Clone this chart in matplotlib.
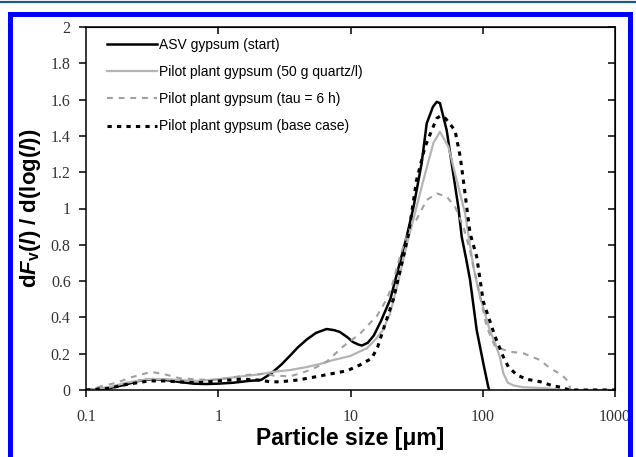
import matplotlib
matplotlib.use("Agg")
import matplotlib.pyplot as plt
from matplotlib.patches import Rectangle
from matplotlib.lines import Line2D

plt.rcParams["mathtext.fontset"] = "custom"
plt.rcParams["mathtext.rm"] = "Liberation Sans:bold"
plt.rcParams["mathtext.it"] = "Liberation Sans:italic:bold"
plt.rcParams["mathtext.bf"] = "Liberation Sans:bold"

# ASV gypsum (start)
asv_x = [0.1, 0.15, 0.2, 0.25, 0.32, 0.4, 0.5, 0.65, 0.8, 1.0, 1.3, 1.7, 2.1, 2.5,
         3.0, 3.5, 4.0, 4.7, 5.5, 6.6, 7.5, 8.3, 9.5, 10.4, 11.5, 12.2, 13.5, 15,
         17, 20, 23, 26.6, 30, 34.5, 37.7, 42, 44.9, 47.5, 53.4, 58.2, 65.3, 69.3,
         75, 80.2, 90, 101, 110, 112]
asv_y = [0.0, 0.01, 0.03, 0.05, 0.06, 0.055, 0.045, 0.035, 0.033, 0.035, 0.04, 0.05,
         0.055, 0.09, 0.14, 0.19, 0.235, 0.28, 0.315, 0.336, 0.33, 0.32, 0.29, 0.265,
         0.25, 0.245, 0.26, 0.3, 0.38, 0.5, 0.67, 0.845, 1.01, 1.249, 1.469, 1.56,
         1.588, 1.58, 1.43, 1.249, 1.01, 0.845, 0.72, 0.606, 0.33, 0.147, 0.018, 0.0]

# Pilot plant gypsum (50 g quartz/l)
quartz_x = [0.1, 0.15, 0.2, 0.3, 0.4, 0.5, 0.7, 1.0, 1.5, 2.0, 2.6, 3.5, 4.7, 6.0,
            7.4, 9.9, 13.3, 15.5, 17.6, 19.9, 23, 26.6, 31.6, 35.6, 42.3, 47.5, 55,
            63.5, 73.5, 84.9, 95.3, 113, 125, 135, 143, 155, 171, 202, 300, 400, 1000]
quartz_y = [0.0, 0.015, 0.04, 0.06, 0.06, 0.055, 0.05, 0.06, 0.075, 0.085, 0.1, 0.11,
            0.127, 0.145, 0.165, 0.187, 0.23, 0.28, 0.33, 0.42, 0.6, 0.8, 1.01, 1.157,
            1.36, 1.423, 1.34, 1.157, 0.973, 0.68, 0.514, 0.33, 0.25, 0.18, 0.092,
            0.04, 0.025, 0.015, 0.01, 0.0, 0.0]

# Pilot plant gypsum (tau = 6 h)
tau_x = [0.1, 0.13, 0.17, 0.22, 0.31, 0.4, 0.51, 0.7, 0.91, 1.2, 1.65, 2.3, 2.6, 3.5,
         4.5, 5.5, 6.6, 8.8, 11.8, 15.9, 18.8, 20.5, 24, 28.2, 31.6, 37.7, 44.9, 53.4,
         61.7, 71.3, 80, 87.3, 98, 107, 124, 140, 161, 203, 271, 323, 396, 444, 460]
tau_y = [0.0, 0.02, 0.04, 0.07, 0.1, 0.085, 0.065, 0.058, 0.055, 0.065, 0.083, 0.09,
         0.08, 0.075, 0.1, 0.125, 0.156, 0.24, 0.31, 0.41, 0.5, 0.57, 0.75, 0.9, 0.94,
         1.047, 1.083, 1.065, 1.01, 0.9, 0.77, 0.643, 0.478, 0.349, 0.239, 0.225,
         0.211, 0.202, 0.165, 0.12, 0.083, 0.046, 0.0]

# Pilot plant gypsum (base case)
base_x = [0.1, 0.15, 0.2, 0.3, 0.4, 0.5, 0.7, 1.0, 1.5, 2.0, 2.5, 2.9, 4.0, 5.2, 7.0,
          9.4, 11.8, 14.5, 16.1, 18.2, 21.1, 25.8, 27.5, 31.6, 36.6, 41.1, 44.9, 48,
          52.2, 61.7, 67.6, 71.3, 75.6, 80.2, 90, 101, 124, 143, 156, 181, 215, 271,
          342, 396, 450, 1000]
base_y = [0.0, 0.01, 0.03, 0.05, 0.05, 0.045, 0.04, 0.05, 0.06, 0.055, 0.045, 0.045,
          0.055, 0.07, 0.088, 0.106, 0.138, 0.175, 0.24, 0.36, 0.5, 0.77, 0.863, 1.157,
          1.34, 1.43, 1.497, 1.51, 1.497, 1.43, 1.285, 1.157, 1.01, 0.863, 0.734,
          0.487, 0.294, 0.183, 0.128, 0.083, 0.059, 0.046, 0.022, 0.015, 0.0, 0.0]

x_ticks = [0.1, 1, 10, 100, 1000]
x_labels = ["0.1", "1", "10", "100", "1000"]
y_ticks = [0, 0.2, 0.4, 0.6, 0.8, 1, 1.2, 1.4, 1.6, 1.8, 2]
y_labels = ["0", "0.2", "0.4", "0.6", "0.8", "1", "1.2", "1.4", "1.6", "1.8", "2"]

fig = plt.figure(figsize=(6.36, 4.57), dpi=100)
ax = fig.add_axes([86 / 636, 1 - 390 / 457, 529 / 636, 363 / 457])

ax.plot(asv_x, asv_y, color="black", lw=1.8, label="ASV gypsum (start)")
ax.plot(quartz_x, quartz_y, color="#b4b4b4", lw=1.6,
        label="Pilot plant gypsum (50 g quartz/l)")
ax.plot(tau_x, tau_y, color="#a0a0a0", lw=1.5, linestyle=(0, (2.8, 2.8)),
        label="Pilot plant gypsum (tau = 6 h)")
ax.plot(base_x, base_y, color="black", lw=2.2, linestyle=(0, (1.4, 1.7)),
        label="Pilot plant gypsum (base case)")

ax.set_xscale("log")
ax.set_xlim(0.1, 1000)
ax.set_ylim(0, 2)
ax.set_xticks(x_ticks)
ax.set_xticklabels(x_labels)
ax.set_yticks(y_ticks)
ax.set_yticklabels(y_labels)
ax.minorticks_off()
ax.tick_params(axis="both", direction="out", length=5, width=1.1, color="black",
               labelcolor="#333333")
ax.tick_params(axis="x", pad=9)
ax.tick_params(axis="y", pad=6)
for lab in ax.get_xticklabels() + ax.get_yticklabels():
    lab.set_fontfamily("Liberation Serif")
    lab.set_fontsize(11.5)
for sp in ax.spines.values():
    sp.set_linewidth(1.1)

top = ax.secondary_xaxis("top")
top.set_xticks([1, 10, 100])
top.set_xticklabels([])
top.tick_params(direction="in", length=5, width=1.1)
top.minorticks_off()
right = ax.secondary_yaxis("right")
right.set_yticks(y_ticks)
right.set_yticklabels([])
right.tick_params(direction="in", length=5, width=1.1)

ax.set_xlabel("Particle size [μm]", fontfamily="Liberation Sans", fontweight="bold",
              fontsize=16.5, labelpad=1)
ax.set_ylabel(r"d$F_{\mathrm{v}}$($l$) / d(log($l$))", fontfamily="Liberation Sans",
              fontweight="bold", fontsize=16, labelpad=6)

ax.legend(loc="upper left", bbox_to_anchor=(0.04, 0.97), frameon=False,
          prop={"family": "Liberation Sans", "size": 10}, handlelength=3.6,
          handletextpad=0.1, labelspacing=0.95, borderpad=0, borderaxespad=0)

# page decoration: thin rule at the top and the blue frame
fig.add_artist(Line2D([0, 1], [1 - 2 / 457, 1 - 2 / 457], transform=fig.transFigure,
                      color="#1f5587", lw=1.6))
fig.add_artist(Rectangle((10 / 636, -0.02), 620 / 636, 1.02 - 14 / 457,
                         transform=fig.transFigure, fill=False,
                         edgecolor="#0000ff", lw=3.6))

fig.savefig("out.png", dpi=100)
